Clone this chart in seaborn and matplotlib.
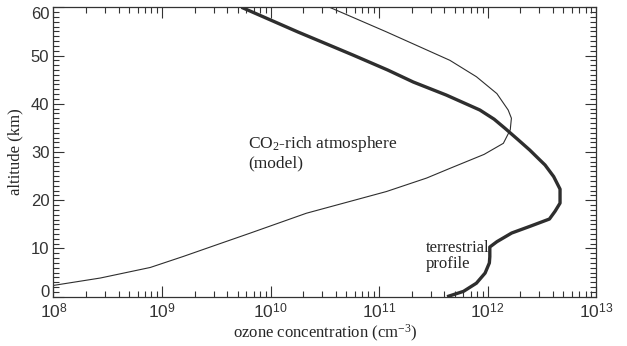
import numpy as np
import pandas as pd
import matplotlib
matplotlib.use("Agg")
import matplotlib.pyplot as plt
import seaborn as sns
from matplotlib.ticker import FixedLocator, LogLocator, MultipleLocator, NullFormatter

# ---- data ----
terr_alt = [0, 1.1, 2.8, 4.9, 7.0, 8.3, 10.3, 11.4, 13.2, 14.6, 16.1, 17.7, 19.4, 22.3, 24.9,
            27.3, 28.3, 30.4, 32.6, 34.9, 36.8, 38.7, 41.8, 44.5, 47.0, 50.1, 51.8, 54.9, 60.0]
terr_conc = [4.24e11, 6.0e11, 7.9e11, 9.5e11, 1.04e12, 1.05e12, 1.05e12, 1.22e12, 1.67e12,
             2.47e12, 3.72e12, 4.19e12, 4.66e12, 4.66e12, 4.07e12, 3.39e12, 3.05e12, 2.45e12,
             1.9e12, 1.45e12, 1.15e12, 8.5e11, 4.17e11, 2.07e11, 1.2e11, 5.75e10, 3.8e10,
             1.78e10, 5.4e9]

co2_alt = [2.34, 3.87, 6.06, 8.34, 10.76, 13.18, 17.3, 21.8, 24.6, 26.6, 29.5, 31.8,
           34.6, 37.0, 38.7, 42.1, 45.6, 49.0, 54.9, 60.0]
co2_conc = [1.0e8, 2.7e8, 7.8e8, 1.57e9, 3.19e9, 6.5e9, 2.14e10, 1.17e11, 2.75e11,
            4.5e11, 9.3e11, 1.40e12, 1.62e12, 1.66e12, 1.55e12, 1.22e12, 7.9e11, 4.5e11,
            1.17e11, 3.5e10]

xtick_vals = [1e8, 1e9, 1e10, 1e11, 1e12, 1e13]
xtick_exps = ["8", "9", "10", "11", "12", "13"]
ytick_vals = [0, 10, 20, 30, 40, 50, 60]

sns.set_theme(style="ticks")
plt.rcParams["font.family"] = ["Liberation Serif", "DejaVu Serif"]
plt.rcParams["mathtext.fontset"] = "custom"
plt.rcParams["mathtext.rm"] = "Liberation Serif"
plt.rcParams["mathtext.sf"] = "Liberation Sans"
plt.rcParams["mathtext.it"] = "Liberation Serif:italic"

fig = plt.figure(figsize=(6.27, 3.46), dpi=100)
ax = fig.add_axes([0.0853, 0.1425, 0.8653, 0.8365])

df_t = pd.DataFrame({"conc": terr_conc, "alt": terr_alt})
df_c = pd.DataFrame({"conc": co2_conc, "alt": co2_alt})
sns.lineplot(data=df_c, x="conc", y="alt", sort=False, estimator=None, ax=ax,
             color="#2e2e2e", linewidth=0.8)
sns.lineplot(data=df_t, x="conc", y="alt", sort=False, estimator=None, ax=ax,
             color="#2e2e2e", linewidth=2.4, solid_capstyle="butt", solid_joinstyle="round")

ax.set_xscale("log")
ax.set_xlim(1e8, 1e13)
ax.set_ylim(0, 60)

ax.xaxis.set_major_locator(FixedLocator(xtick_vals))
ax.set_xticklabels([r"$\mathsf{10}^{\mathsf{%s}}$" % e for e in xtick_exps], fontsize=12.5,
                   color="#333333")
ax.xaxis.set_minor_locator(LogLocator(base=10, subs=np.arange(2, 10), numticks=20))
ax.xaxis.set_minor_formatter(NullFormatter())
ax.yaxis.set_major_locator(FixedLocator(ytick_vals))
ylabels = ax.set_yticklabels([str(v) for v in ytick_vals], family="Liberation Sans",
                             fontsize=12, color="#333333")
ylabels[0].set_va("baseline")
ylabels[-1].set_va("top")
ax.yaxis.set_minor_locator(MultipleLocator(1))

ax.tick_params(which="both", direction="in", top=True, right=True, color="#333333", width=0.8)
ax.tick_params(which="major", length=8)
ax.tick_params(which="minor", length=4)
ax.tick_params(axis="x", which="major", pad=5)
ax.tick_params(axis="y", which="major", pad=3)

for s in ax.spines.values():
    s.set_color("#333333")
    s.set_linewidth(0.9)

ax.set_xlabel(r"ozone concentration (cm$^{-3}$)", fontsize=12, labelpad=0)
ax.set_ylabel("altitude (km)", fontsize=12, labelpad=5)

ax.text(6.2e9, 29.8, "CO$_{\\mathrm{2}}$-rich atmosphere\n(model)", fontsize=12.5,
        ha="left", va="center", linespacing=1.1)
ax.text(2.7e11, 8.4, "terrestrial\nprofile", fontsize=12, ha="left", va="center",
        linespacing=1.0)

fig.savefig("out.png", dpi=100)
